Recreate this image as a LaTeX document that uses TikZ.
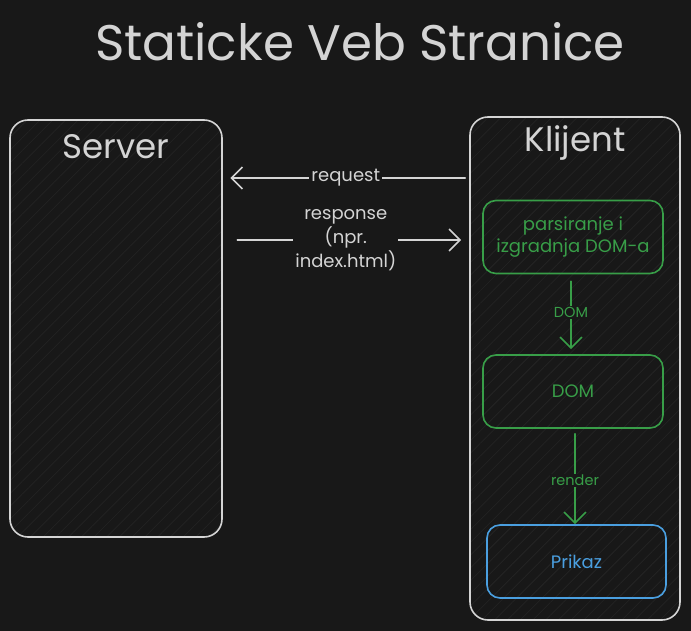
\documentclass[tikz,border=0pt]{standalone}
\usepackage{fontspec}
\setmainfont{Poppins}
\usetikzlibrary{arrows.meta,patterns.meta}
\definecolor{bg}{HTML}{181818}
\definecolor{ink}{HTML}{D4D4D4}
\definecolor{grn}{HTML}{389E48}
\definecolor{blu}{HTML}{4A9FE0}
\definecolor{hatch}{HTML}{232323}
\begin{document}
\begin{tikzpicture}[x=1pt,y=-1pt,
  hatchfill/.style={pattern={Lines[angle=45,distance=9pt,line width=0.7pt]},pattern color=hatch},
  panel/.style={draw=ink,line width=1.6pt,rounded corners=18pt,hatchfill,inner sep=0pt},
  stepbox/.style={line width=1.6pt,rounded corners=13pt,hatchfill,inner sep=0pt,
    minimum width=180pt,minimum height=73pt,align=center,font=\fontsize{18}{22}\selectfont},
  arr/.style={line width=1.6pt,line cap=round,-{Straight Barb[length=11pt,width=22pt,line width=1.6pt]}},
  lbl/.style={fill=bg,inner sep=2pt,align=center,font=\fontsize{18}{24}\selectfont},
  slbl/.style={fill=bg,inner sep=1.5pt,font=\fontsize{14.5}{16}\selectfont}]
\fill[bg] (0,0) rectangle (691,631);
\useasboundingbox (0,0) rectangle (691,631);

\node[text=ink,font=\fontsize{50}{54}\selectfont] (title) at (360,42) {Staticke Veb Stranice};

\node[panel,minimum width=212pt,minimum height=417pt] (server) at (116,328.5) {};
\node[text=ink,font=\fontsize{34}{38}\selectfont] (servert) at (116,147) {Server};

\node[panel,minimum width=210pt,minimum height=503pt] (klijent) at (575,368.5) {};
\node[text=ink,font=\fontsize{34}{38}\selectfont] (klijentt) at (575,143) {Klijent};

\node[stepbox,draw=grn,text=grn] (parse) at (573,237) {parsiranje i\\izgradnja DOM-a};
\node[stepbox,draw=grn,text=grn] (dom) at (573,391.5) {DOM};
\node[stepbox,draw=blu,text=blu,minimum width=179pt] (prikaz) at (576.5,561.5) {Prikaz};

\coordinate (ry) at (0,178);
\coordinate (sy) at (0,240);
\draw[arr,draw=ink,shorten <=4pt,shorten >=8pt] (klijent.west |- ry) -- (server.east |- ry)
  node[lbl,text=ink,midway] {request};
\draw[arr,draw=ink,shorten <=15pt,shorten >=8pt] (server.east |- sy) -- (klijent.west |- sy)
  node[lbl,text=ink,midway] {response\\(npr.\\index.html)};

\draw[arr,draw=grn,shorten <=7pt,shorten >=5pt] ([xshift=-2pt]parse.south) -- ([xshift=-2pt]dom.north)
  node[slbl,text=grn,midway,yshift=2pt] {DOM};
\draw[arr,draw=grn,shorten <=5pt] ([xshift=2pt]dom.south) -- ([xshift=2pt]dom.south |- prikaz.north)
  node[slbl,text=grn,midway,yshift=-4pt] {render};
\end{tikzpicture}
\end{document}
